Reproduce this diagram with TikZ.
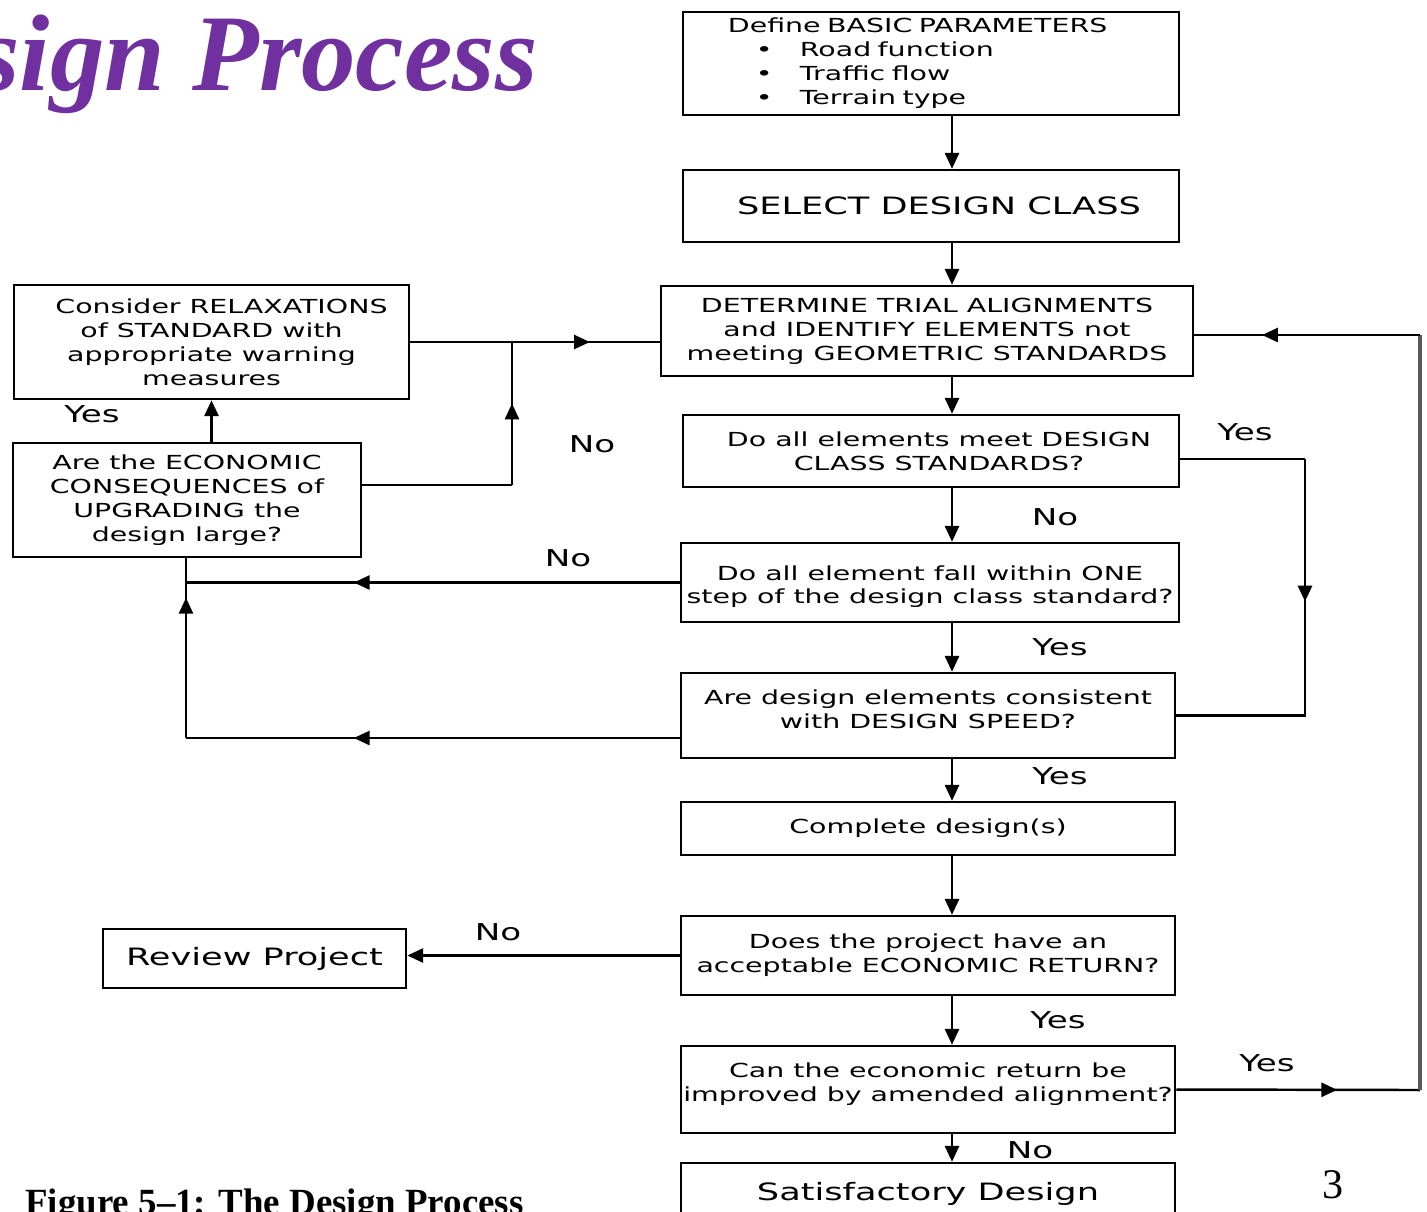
\documentclass[tikz,border=0pt]{standalone}
\usepackage{fontspec}
\usetikzlibrary{arrows.meta, decorations.markings}
\newfontfamily\flowfont[FakeStretch=1.47]{DejaVu Sans}
\newfontfamily\titlefont{Liberation Serif}
\definecolor{title purple}{HTML}{7030A0}
\colorlet{loop line}{black!65}
\tikzset{
  box/.style={draw, line width=0.7pt, font=\flowfont\fontsize{5.5}{6.8}\selectfont, align=center, inner sep=0pt},
  bigbox/.style={box, font=\flowfont\fontsize{6.8}{8}\selectfont},
  edge/.style={line width=0.7pt, -{Triangle[width=4pt,length=4.5pt]}},
  link/.style={line width=0.7pt},
  midarr/.style={link, postaction={decorate},
    decoration={markings, mark=at position #1 with {\arrow{Triangle[width=4pt,length=4.5pt]}}}},
  lbl/.style={font=\flowfont\fontsize{6.6}{8}\selectfont, inner sep=0pt}
}

\begin{document}
\begin{tikzpicture}[x=0.01cm, y=-0.01cm]
    \useasboundingbox (0,0) rectangle (1427,1211);
    \clip (0,0) rectangle (1427,1211);
    \node[anchor=base east, text=title purple, font=\titlefont\bfseries\itshape\fontsize{31}{36}\selectfont] (title) at (550,90) {Design Process};
    \node[anchor=base west, font=\titlefont\bfseries\fontsize{10.5}{12}\selectfont] (caption) at (13,1214) {Figure 5\textendash 1: The Design Process};
    \node[font=\titlefont\fontsize{12}{14}\selectfont] (pagenum) at (1333,1185) {3};
    \coordinate (spine) at (952,0);
    % main column
    \node[box, align=left, text width=4.06cm, inner xsep=0.45cm, minimum height=1.03cm] (params) at (931,63.5)
      {Define BASIC PARAMETERS\\
       \hspace*{0.28cm}\makebox[0.44cm][l]{\textbullet}Road function\\
       \hspace*{0.28cm}\makebox[0.44cm][l]{\textbullet}Traffic flow\\
       \hspace*{0.28cm}\makebox[0.44cm][l]{\textbullet}Terrain type};
    \node[bigbox, minimum width=4.96cm, minimum height=0.72cm] (class) at (931,206) {\hspace*{0.16cm}SELECT DESIGN CLASS};
    \node[box, minimum width=5.32cm, minimum height=0.9cm] (trial) at (927,331)
      {DETERMINE TRIAL ALIGNMENTS\\ and IDENTIFY ELEMENTS not\\ meeting GEOMETRIC STANDARDS};
    \node[box, minimum width=4.96cm, minimum height=0.72cm] (meet) at (931,451)
      {\hspace*{0.16cm}Do all elements meet DESIGN\\ \hspace*{0.16cm}CLASS STANDARDS?};
    \node[box, minimum width=4.98cm, minimum height=0.79cm] (onestep) at (930,582.5)
      {\raisebox{0pt}[0.23cm][0pt]{}Do all element fall within ONE\\ step of the design class standard?};
    \node[box, minimum width=4.94cm, minimum height=0.85cm] (speed) at (928,715.5)
      {Are design elements consistent\\ with DESIGN SPEED?\raisebox{0pt}[0pt][0.12cm]{}};
    \node[box, minimum width=4.94cm, minimum height=0.53cm] (complete) at (928,828.5) {Complete design(s)};
    \node[box, minimum width=4.94cm, minimum height=0.79cm] (econ) at (928,955.5)
      {Does the project have an\\ acceptable ECONOMIC RETURN?};
    \node[box, minimum width=4.94cm, minimum height=0.87cm] (improve) at (928,1089.5)
      {Can the economic return be\\ improved by amended alignment?\raisebox{0pt}[0pt][0.14cm]{}};
    \node[bigbox, minimum width=4.94cm, minimum height=0.62cm] (satis) at (928,1194) {Satisfactory Design};
    % left column
    \node[box, minimum width=3.95cm, minimum height=1.14cm] (relax) at (211.5,342)
      {\hspace*{0.2cm}Consider RELAXATIONS\\ of STANDARD with\\ appropriate warning\\ measures};
    \node[box, minimum width=3.48cm, minimum height=1.14cm] (large) at (187,500)
      {Are the ECONOMIC\\ CONSEQUENCES of\\ UPGRADING the\\ design large?};
    \node[bigbox, minimum width=3.03cm, minimum height=0.59cm] (review) at (254.5,958.5) {Review Project};
    % labels
    \node[lbl] (yesRelax) at (92,414) {Yes};
    \node[lbl] (noLarge) at (592,444) {No};
    \node[lbl] (noStep) at (568,558) {No};
    \node[lbl] (yesMeet) at (1245,432) {Yes};
    \node[lbl] (noMeet) at (1055,517) {No};
    \node[lbl] (yesStep) at (1060,647) {Yes};
    \node[lbl] (yesSpeed) at (1060,776) {Yes};
    \node[lbl] (noEcon) at (498,932) {No};
    \node[lbl] (yesEcon) at (1058,1020) {Yes};
    \node[lbl] (yesImprove) at (1267,1063) {Yes};
    \node[lbl] (noImprove) at (1030,1150) {No};
    % main flow
    \draw[edge] (params.south -| spine) -- (class.north -| spine);
    \draw[edge] (class.south -| spine) -- (trial.north -| spine);
    \draw[edge] (trial.south -| spine) -- (meet.north -| spine);
    \draw[edge] (meet.south -| spine) -- (onestep.north -| spine);
    \draw[edge] (onestep.south -| spine) -- (speed.north -| spine);
    \draw[edge] (speed.south -| spine) -- (complete.north -| spine);
    \draw[edge] (complete.south -| spine) -- (econ.north -| spine);
    \draw[edge] (econ.south -| spine) -- (improve.north -| spine);
    \draw[edge] (improve.south -| spine) -- (satis.north -| spine);
    % yes branch on the right
    \coordinate (yesR) at (1305,459);
    \draw[link] (meet.east |- yesR) -- (yesR);
    \draw[midarr=0.37] (yesR) -- (yesR |- speed.east) -- (speed.east);
    % loop back to trial alignments
    \coordinate (loopB) at (1420,1090);
    \coordinate (loopT) at (1420,335);
    \draw[midarr=0.66] (improve.east) -- (loopB);
    \draw[line width=1.3pt, loop line] (loopB) -- (loopT);
    \draw[midarr=0.7] (loopT) -- (trial.east |- loopT);
    % branches on the left
    \coordinate (lowL) at (186,738);
    \draw[midarr=0.66] (onestep.west) -- (onestep.west -| lowL);
    \draw[midarr=0.66] (speed.west |- lowL) -- (lowL);
    \draw[midarr=0.78] (lowL) -- (large.south -| lowL);
    \draw[edge] (large.north -| relax.south) -- (relax.south);
    \coordinate (joinN) at (512,485);
    \draw[link] (large.east |- joinN) -- (joinN);
    \draw[midarr=0.57] (joinN) -- (joinN |- relax.east);
    \draw[midarr=0.72] (relax.east) -- (relax.east -| trial.west);
    \draw[edge] (econ.west) -- (econ.west -| review.east);
\end{tikzpicture}
\end{document}
